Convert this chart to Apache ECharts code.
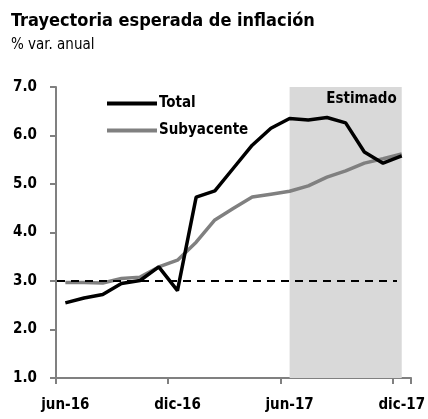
<!DOCTYPE html>
<html>
<head>
<meta charset="utf-8">
<script src="https://cdn.jsdelivr.net/npm/echarts@6/dist/echarts.min.js"></script>
<style>
html, body { margin: 0; padding: 0; background: #fff; }
#chart { width: 428px; height: 419px; }
</style>
</head>
<body>
<div id="chart"></div>
<script>
var FONT = "'Liberation Sans Narrow', 'Arial Narrow', 'DejaVu Sans Condensed', sans-serif";

var meses = ['jun-16','jul-16','ago-16','sep-16','oct-16','nov-16','dic-16',
             'ene-17','feb-17','mar-17','abr-17','may-17','jun-17','jul-17',
             'ago-17','sep-17','oct-17','nov-17','dic-17'];
var total = [2.55, 2.65, 2.72, 2.95, 3.01, 3.29, 2.8,
             4.73, 4.86, 5.33, 5.8, 6.15, 6.35, 6.32,
             6.37, 6.26, 5.66, 5.43, 5.58];
var subyacente = [2.97, 2.97, 2.96, 3.05, 3.08, 3.29, 3.43,
                  3.8, 4.26, 4.5, 4.73, 4.79, 4.85, 4.96,
                  5.14, 5.27, 5.43, 5.52, 5.62];
var meta = 3.0;
var estimadoDesde = 'jun-17';
var estimadoHasta = 'dic-17';

var chart = echarts.init(document.getElementById('chart'));
var option = {
    animation: false,
    textStyle: { fontFamily: FONT },
    title: {
        text: 'Trayectoria esperada de inflación',
        subtext: '% var. anual',
        left: 6,
        top: 7,
        itemGap: 8,
        textStyle: { fontFamily: FONT, fontSize: 18, fontWeight: 'bold', color: '#000' },
        subtextStyle: { fontFamily: FONT, fontSize: 15, color: '#000' }
    },
    legend: {
        orient: 'vertical',
        left: 102,
        top: 91,
        itemWidth: 50,
        itemHeight: 4,
        itemGap: 12,
        icon: 'rect',
        textStyle: { fontFamily: FONT, fontSize: 15, fontWeight: 'bold', color: '#000', padding: [0, 0, 0, -3] },
        data: ['Total', 'Subyacente']
    },
    grid: { left: 56, right: 15, top: 87, bottom: 41 },
    xAxis: {
        type: 'category',
        data: meses,
        boundaryGap: true,
        axisLine: { lineStyle: { color: '#808080', width: 2 } },
        axisTick: { show: true, alignWithLabel: false, interval: 5, length: 6, lineStyle: { color: '#808080', width: 2 } },
        axisLabel: { interval: 5, fontFamily: FONT, fontSize: 15, fontWeight: 'bold', color: '#000', margin: 20 }
    },
    yAxis: {
        type: 'value',
        min: 1, max: 7, interval: 1,
        axisLine: { show: true, lineStyle: { color: '#808080', width: 2 } },
        axisTick: { show: true, length: 6, lineStyle: { color: '#808080', width: 2 } },
        splitLine: { show: false },
        axisLabel: {
            fontFamily: FONT, fontSize: 15, fontWeight: 'bold', color: '#000', margin: 19,
            formatter: function (v) { return v.toFixed(1); }
        }
    },
    series: [
        {
            name: 'Total',
            type: 'line',
            data: total,
            symbol: 'none',
            z: 3,
            color: '#000',
            lineStyle: { color: '#000', width: 3.5 },
            markArea: {
                silent: true,
                itemStyle: { color: '#d9d9d9' },
                label: {
                    show: true, position: 'insideTopRight', distance: 5,
                    formatter: 'Estimado',
                    fontFamily: FONT, fontSize: 15, fontWeight: 'bold', color: '#000'
                },
                data: [[{ name: 'Estimado', xAxis: estimadoDesde }, { xAxis: estimadoHasta }]]
            },
            markLine: {
                silent: true,
                symbol: 'none',
                label: { show: false },
                lineStyle: { color: '#000', type: [8, 6], width: 2 },
                data: [[{ yAxis: meta, x: 57 }, { yAxis: meta, x: 397 }]]
            }
        },
        {
            name: 'Subyacente',
            type: 'line',
            data: subyacente,
            symbol: 'none',
            z: 2,
            color: '#808080',
            lineStyle: { color: '#808080', width: 3.5 }
        }
    ]
};
chart.setOption(option);
</script>
</body>
</html>
